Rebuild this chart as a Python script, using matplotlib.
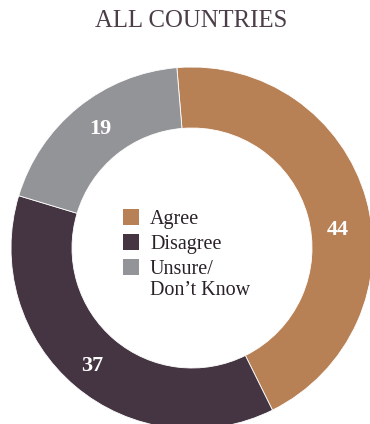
import numpy as np
import matplotlib
matplotlib.use("Agg")
import matplotlib.pyplot as plt
from matplotlib.patches import Rectangle

title = "ALL COUNTRIES"
categories = ["Agree", "Disagree", "Unsure/\nDon\u2019t Know"]
values = [44, 37, 19]
colors = ["#b88055", "#453542", "#939497"]

W, H = 370, 424
fig = plt.figure(figsize=(W / 100, H / 100), dpi=100)
ax = fig.add_axes([0, 0, 1, 1])

cx, cy = 192, H - 248
r_out = 181
ring = 61

wedges, _ = ax.pie(
    values, colors=colors, startangle=94.8, counterclock=False,
    center=(cx, cy), radius=r_out, frame=True,
    wedgeprops=dict(width=ring, edgecolor="white", linewidth=0.6),
)
ax.set_xlim(0, W)
ax.set_ylim(0, H)
ax.set_aspect("equal")
ax.axis("off")

serif = ["Liberation Serif", "DejaVu Serif"]

# value labels inside the ring
label_angle_shift = [-8.5, 0, -1.5]
label_radius = [147, 155, 150]
for w, v, da, rr in zip(wedges, values, label_angle_shift, label_radius):
    mid = np.deg2rad((w.theta1 + w.theta2) / 2 + da)
    ax.text(cx + rr * np.cos(mid), cy + rr * np.sin(mid), f"{v}",
            color="white", fontsize=16, fontweight="bold", family=serif,
            ha="center", va="center")

ax.text(191.5, H - 21, title, color="#4b3e48", fontsize=17.8,
        family=serif, ha="center", va="center")

# legend in the middle of the ring
sq = 16
x0 = 123
row_y = [H - 217, H - 242, H - 267]
for lab, col, y in zip(categories, colors, row_y):
    ax.add_patch(Rectangle((x0, y - sq / 2), sq, sq, facecolor=col,
                           edgecolor="none"))
    ax.text(x0 + 27, y + 7, lab, color="#2a2228", fontsize=14.5,
            family=serif, ha="left", va="top", linespacing=1.15)

fig.savefig("out.png", dpi=100)
